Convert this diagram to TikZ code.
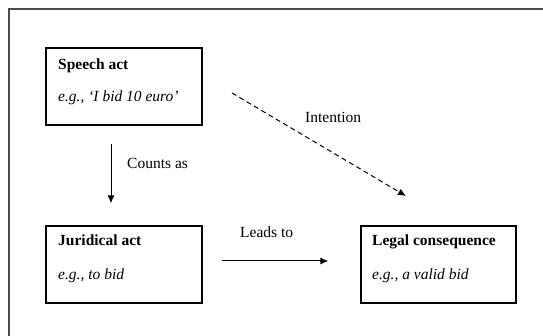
\documentclass[tikz,border=0pt]{standalone}
\usepackage{fontspec}
\setmainfont{Liberation Serif}
\usetikzlibrary{arrows.meta}
\begin{document}
\begin{tikzpicture}[x=1pt,y=-1pt,
  boxnode/.style={draw=black,line width=1.3pt,rectangle,minimum width=156pt,minimum height=77pt,inner sep=0pt},
  titletext/.style={anchor=base west,inner sep=0pt,font=\fontsize{15.5}{18}\selectfont\bfseries},
  extext/.style={anchor=base west,inner sep=0pt,font=\fontsize{15.5}{18}\selectfont\itshape},
  lbl/.style={anchor=base west,inner sep=0pt,font=\fontsize{15.5}{18}\selectfont},
  arr/.style={line width=1pt,-{Latex[length=8pt,width=7pt]}}]
\useasboundingbox (0,0) rectangle (543,336);
% outer frame (cropped)
\draw[black!70,line width=1.8pt] (543,9) -- (9,9) -- (9,340);
% boxes
\node[boxnode] (sa) at (124,86.5) {};
\node[boxnode] (ja) at (124,264.5) {};
\node[boxnode,minimum width=155pt] (lc) at (438.5,264.5) {};
% box texts
\node[titletext] (sat) at (58,70) {Speech act};
\node[extext] (sae) at (58,102) {e.g., ‘I bid 10 euro’};
\node[titletext] (jat) at (58,246) {Juridical act};
\node[extext] (jae) at (58,280) {e.g., to bid};
\node[titletext] (lct) at (372,246) {Legal consequence};
\node[extext] (lce) at (372,280) {e.g., a valid bid};
% arrows
\draw[arr,shorten <=18pt,shorten >=22pt] ([xshift=-13pt]sa.south) -- ([xshift=-13pt]ja.north);
\draw[arr,shorten <=19pt,shorten >=32pt] ([yshift=3.5pt]ja.east) -- ([yshift=3.5pt]lc.west);
\coordinate (ds) at (232,93);
\coordinate (de) at (406,196);
\draw[arr,dash pattern=on 5pt off 3.5pt] (ds) -- (de);
% labels
\node[lbl] (counts) at (127,169) {Counts as};
\node[lbl] (leads) at (240,238) {Leads to};
\node[lbl] (intent) at (305,123) {Intention};
\end{tikzpicture}
\end{document}
